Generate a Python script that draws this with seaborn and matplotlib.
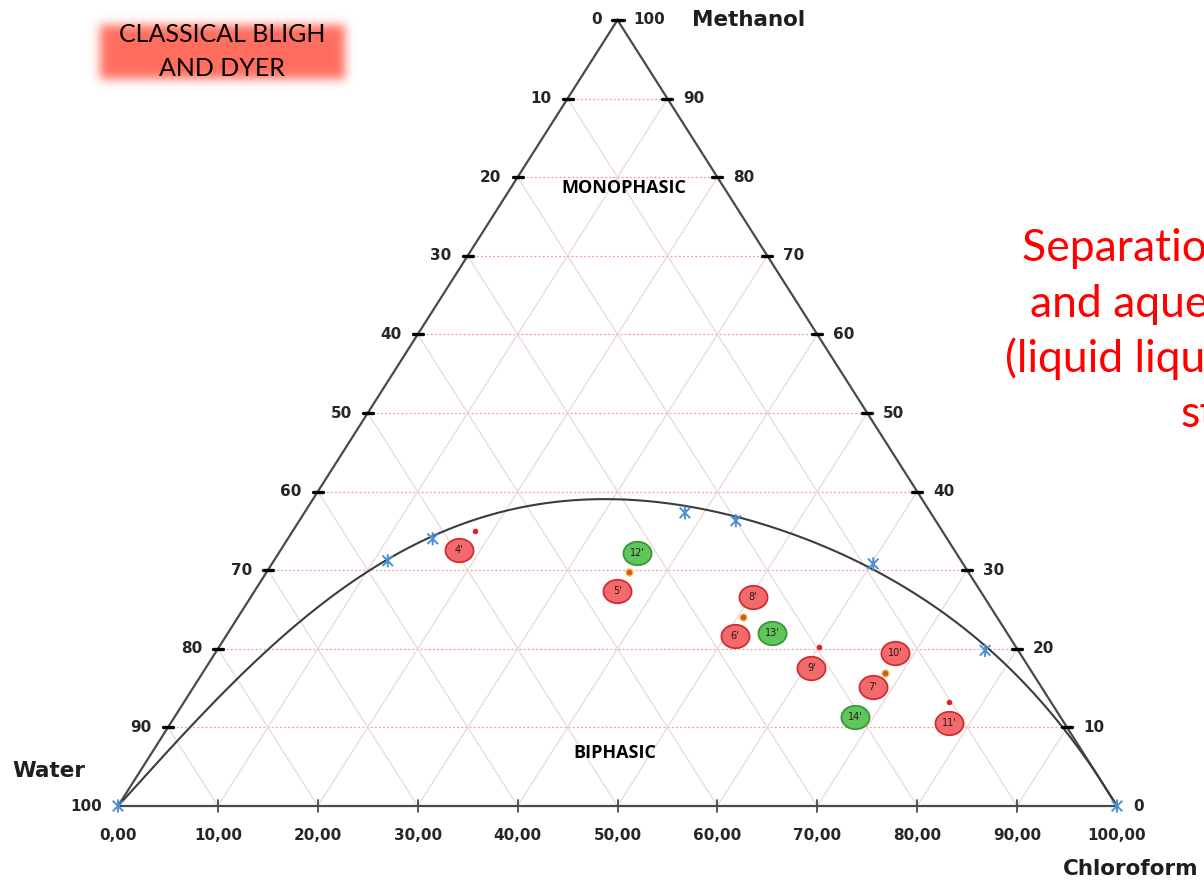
import numpy as np
import pandas as pd
import matplotlib
matplotlib.use("Agg")
import matplotlib.pyplot as plt
from matplotlib.path import Path
import seaborn as sns

# ---------------------------------------------------------------------------
# Ternary data (wt %), water = 100 - chloroform - methanol
# ---------------------------------------------------------------------------
# Binodal (phase boundary) curve
curve_chloroform = [0.0, 2.25, 3.34, 4.93, 7.58, 9.97, 12.24, 14.42, 16.80, 20.11,
                    24.67, 28.85, 33.98, 38.30, 43.18, 48.71, 54.80, 61.14, 65.39,
                    70.51, 76.24, 82.72, 89.53, 95.9, 100.0]
curve_methanol = [0.0, 9.9, 15.1, 20.0, 24.7, 29.9, 32.6, 34.2, 36.3, 37.7,
                  38.5, 38.8, 38.5, 37.9, 36.8, 35.1, 33.0, 30.3, 28.4,
                  24.9, 20.1, 15.1, 9.9, 4.2, 0.0]

# Measured cloud points on the boundary
cloud_chloroform = [0.0, 11.4, 14.5, 38.1, 43.7, 60.2, 76.9, 100.0]
cloud_methanol = [0.0, 31.2, 34.0, 37.3, 36.3, 30.8, 19.8, 0.0]

# Extraction mixtures
mix_chloroform = [18.2, 36.3, 50.6, 60.1, 68.3, 76.6]
mix_methanol = [35.0, 29.8, 24.0, 20.2, 16.9, 13.2]
mix_kind = ["single", "shared", "shared", "single", "shared", "single"]

# Sample tags
tag_names = ["4'", "12'", "5'", "8'", "6'", "13'", "9'", "10'", "7'", "14'", "11'"]
tag_chloroform = [17.85, 35.86, 36.27, 50.27, 50.95, 54.46, 60.59, 68.04, 68.0, 68.11, 77.9]
tag_methanol = [32.6, 32.2, 27.4, 26.6, 21.6, 22.0, 17.6, 19.5, 15.1, 11.3, 10.6]
tag_group = ["red", "green", "red", "red", "red", "green", "red", "red", "red", "green", "red"]

axis_ticks = list(range(0, 101, 10))
bottom_tick_labels = [f"{v},00" for v in axis_ticks]


def project(chloroform, methanol):
    c = np.asarray(chloroform, float)
    m = np.asarray(methanol, float)
    return c + m / 2.0, m


# ---------------------------------------------------------------------------
sns.set_theme(style="white")
plt.rcParams["font.family"] = ["DejaVu Sans"]

W, H = 1204, 880
fig = plt.figure(figsize=(W / 100, H / 100), dpi=100)
ax = fig.add_axes([0, 0, 1, 1])
SX, SY = 9.99, 7.86            # pixels per unit
X0, Y0 = 118, 806              # pixel position of the water corner
ax.set_xlim(-X0 / SX, (W - X0) / SX)
ax.set_ylim(-(H - Y0) / SY, Y0 / SY)
ax.axis("off")

dx = lambda px: px / SX
dy = lambda px: px / SY

# grid
for k in axis_ticks[1:-1]:
    ax.plot([k / 2, 100 - k / 2], [k, k], color="#ee9c9c", lw=0.9,
            ls=(0, (1.5, 1.8)), zorder=1)
    ax.plot([k, k / 2], [0, k], color="#ead2d4", lw=0.8, zorder=1)
    ax.plot([k, (100 + k) / 2], [0, 100 - k], color="#ead2d4", lw=0.8, zorder=1)

# triangle frame
ax.plot([0, 100, 50, 0], [0, 0, 100, 0], color="#4a4a4a", lw=1.6, zorder=3,
        solid_joinstyle="miter")

# edge ticks and labels
lab_kw = dict(fontsize=11, fontweight="bold", color="#262626", zorder=5)
for m in axis_ticks:
    lx, rx = m / 2, 100 - m / 2
    if 0 < m < 100:
        ax.plot([lx - dx(5), lx + dx(5)], [m, m], color="black", lw=2.4, zorder=4)
        ax.plot([rx - dx(5), rx + dx(5)], [m, m], color="black", lw=2.4, zorder=4)
    ax.text(lx - dx(16), m, str(100 - m), ha="right", va="center", **lab_kw)
    ax.text(rx + dx(16), m, str(m), ha="left", va="center", **lab_kw)
ax.plot([50 - dx(6), 50 + dx(6)], [100, 100], color="black", lw=2.4, zorder=4)

for k, lab in zip(axis_ticks, bottom_tick_labels):
    if 0 < k < 100:
        ax.plot([k, k], [-dy(6), dy(6)], color="#4a4a4a", lw=1.3, zorder=4)
    ax.text(k, -dy(29), lab, ha="center", va="center", **lab_kw)

name_kw = dict(fontsize=15.5, fontweight="bold", color="#1e1e1e", zorder=5)
ax.text(dx(692 - X0), 100, "Methanol", ha="left", va="center", **name_kw)
ax.text(dx(49 - X0), dy(Y0 - 771), "Water", ha="center", va="center", **name_kw)
ax.text(dx(1199 - X0), -dy(869 - Y0), "Chloroform", ha="right", va="center", **name_kw)

# binodal curve: least-squares trend line through the boundary points,
# pinned to both binary corners
cx, cy = project(curve_chloroform, curve_methanol)
inner = (cx > 0) & (cx < 100)
coef = np.polyfit(cx[inner], cy[inner] / (cx[inner] * (100 - cx[inner])), 3)
xs = np.linspace(0, 100, 401)
ys = xs * (100 - xs) * np.polyval(coef, xs)
ys = np.minimum(ys, np.minimum(2 * xs, 2 * (100 - xs)))
sns.lineplot(x=xs, y=ys, sort=False, estimator=None, color="#3c3c3c", lw=1.5,
             ax=ax, zorder=3)

# cloud points (star markers)
star = Path([(-1, -1), (1, 1), (-1, 1), (1, -1), (0, -1.25), (0, 1.25)],
            [Path.MOVETO, Path.LINETO, Path.MOVETO, Path.LINETO, Path.MOVETO, Path.LINETO])
px_, py_ = project(cloud_chloroform, cloud_methanol)
sns.scatterplot(x=px_, y=py_, marker=star, s=90, facecolor="none",
                edgecolor="#4b8fd6", linewidth=1.4, ax=ax, zorder=6, legend=False)

# mixtures
mx, my = project(mix_chloroform, mix_methanol)
mix = pd.DataFrame({"x": mx, "y": my, "kind": mix_kind})
single = mix[mix.kind == "single"]
shared = mix[mix.kind == "shared"]
sns.scatterplot(data=single, x="x", y="y", s=16, color="#e0202a", linewidth=0,
                ax=ax, zorder=6, legend=False)
sns.scatterplot(data=shared, x="x", y="y", s=26, color="#d45a1c",
                edgecolor="#f3c65a", linewidth=1.0, ax=ax, zorder=6, legend=False)

# sample tags (ellipses)
t = np.linspace(0, 2 * np.pi, 72)
oval = Path(np.column_stack([1.2 * np.cos(t), np.sin(t)]), closed=True)
tx, ty = project(tag_chloroform, tag_methanol)
tags = pd.DataFrame({"x": tx, "y": ty, "name": tag_names, "group": tag_group})
fills = {"red": "#f36a6c", "green": "#5ec65c"}
edges = {"red": "#cf2f33", "green": "#3b973a"}
for g in ["red", "green"]:
    sub = tags[tags.group == g]
    sns.scatterplot(data=sub, x="x", y="y", marker=oval, s=410, color=fills[g],
                    edgecolor=edges[g], linewidth=1.3, ax=ax, zorder=7, legend=False)
for _, r in tags.iterrows():
    ax.text(r.x, r.y, r["name"], ha="center", va="center", fontsize=7,
            color="#2a1a10", zorder=8)

# region labels
reg_kw = dict(fontsize=13, fontweight="bold", color="black", family="Open Sans",
              ha="center", va="center", zorder=5)
ax.text(dx(624 - X0), dy(Y0 - 188), "MONOPHASIC", **reg_kw)
ax.text(dx(615 - X0), dy(Y0 - 753), "BIPHASIC", **reg_kw)

# soft red banner
bw, bh, pad, sig = 285, 92, 20, 5.0
alpha = np.zeros((bh, bw))
alpha[pad:bh - pad + 2, pad:bw - pad] = 1.0
kk = np.arange(-int(3 * sig), int(3 * sig) + 1)
g = np.exp(-kk ** 2 / (2 * sig ** 2))
g /= g.sum()
alpha = np.apply_along_axis(lambda r: np.convolve(r, g, mode="same"), 1, alpha)
alpha = np.apply_along_axis(lambda r: np.convolve(r, g, mode="same"), 0, alpha)
img = np.zeros((bh, bw, 4))
img[..., 0], img[..., 1], img[..., 2] = 1.0, 0.43, 0.37
img[..., 3] = alpha
bax = fig.add_axes([80 / W, 1 - 97 / H, bw / W, bh / H])
bax.imshow(img, aspect="auto", interpolation="bilinear")
bax.axis("off")

ban_kw = dict(fontsize=18, family="Lato", color="black", ha="center", va="center")
fig.text(222 / W, 1 - 35 / H, "CLASSICAL BLIGH", **ban_kw)
fig.text(222 / W, 1 - 69 / H, "AND DYER", **ban_kw)

# red note on the right
note_lines = ["Separation of organic", "and aqueous phases",
              "(liquid liquid extraction", "step)"]
note_left = [1022, 1030, 1005, 1180]
note_base = [261, 317, 372, 427]
for txt, lx, by in zip(note_lines, note_left, note_base):
    fig.text(lx / W, 1 - by / H, txt, fontsize=32, family="Lato", color="#ff0000",
             ha="left", va="baseline")

fig.savefig("out.png", dpi=100)
